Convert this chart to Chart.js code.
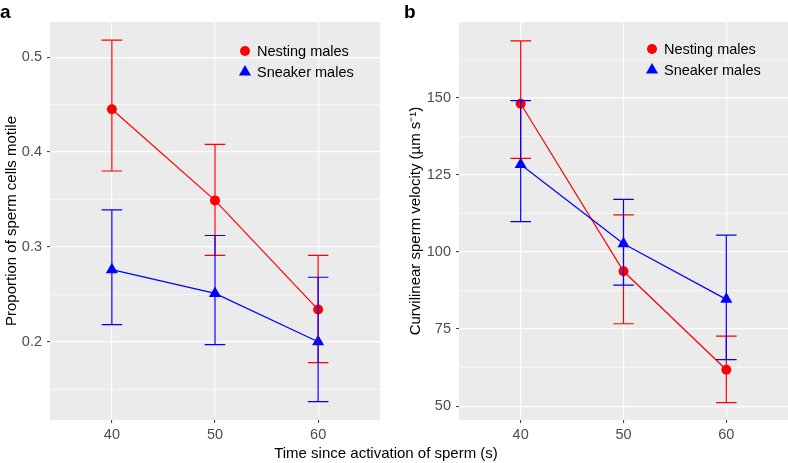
<!DOCTYPE html>
<html lang="en">
<head>
<meta charset="utf-8">
<title>Sperm motility and velocity</title>
<script src="https://cdn.jsdelivr.net/npm/chart.js"></script>
<style>
  body { margin: 0; background: #fff; font-family: "Liberation Sans", Arial, sans-serif; }
  #wrap { position: relative; width: 788px; height: 463px; overflow: hidden; }
  canvas { position: absolute; top: 0; }
  #chartA { left: 0; }
  #chartB { left: 390px; }
  .panel { position: absolute; font-weight: bold; font-size: 19px; line-height: 19px; color: #000; }
  #xTitle { position: absolute; top: 445px; left: 0; width: 772px; text-align: center; font-size: 15px; line-height: 15px; color: #000; }
</style>
</head>
<body>
<div id="wrap">
  <canvas id="chartA" width="390" height="463"></canvas>
  <canvas id="chartB" width="398" height="463"></canvas>
  <div class="panel" style="left:0px;top:2px">a</div>
  <div class="panel" style="left:404px;top:2px">b</div>
  <div id="xTitle">Time since activation of sperm (s)</div>
</div>
<script>
// time since activation (s)
const times = [40, 50, 60];
const timeTicks = [40, 50, 60];

// panel a - proportion of sperm cells motile
const nestMotile     = [0.445, 0.349, 0.234];
const nestMotileLow  = [0.380, 0.291, 0.178];
const nestMotileHigh = [0.518, 0.408, 0.291];
const sneakMotile     = [0.276, 0.251, 0.200];
const sneakMotileLow  = [0.218, 0.197, 0.137];
const sneakMotileHigh = [0.339, 0.312, 0.268];
const motileMajor = [0.2, 0.3, 0.4, 0.5];
const motileMinor = [0.15, 0.25, 0.35, 0.45];

// panel b - curvilinear velocity (um/s)
const nestVel     = [148.0, 93.7, 61.8];
const nestVelLow  = [130.3, 76.7, 51.1];
const nestVelHigh = [168.4, 112.0, 72.7];
const sneakVel     = [128.3, 102.6, 84.6];
const sneakVelLow  = [109.8, 89.2, 65.1];
const sneakVelHigh = [149.0, 117.0, 105.4];
const velMajor = [50, 75, 100, 125, 150];
const velMinor = [62.5, 87.5, 112.5, 137.5, 162.5];

const RED = '#FF0000';
const BLUE = '#0000FF';
const FONT = '"Liberation Sans", Arial, sans-serif';

Chart.defaults.font.family = FONT;
Chart.defaults.devicePixelRatio = 1;

// grey ggplot panel
const panelBg = {
  id: 'panelBg',
  beforeDraw(chart) {
    const a = chart.chartArea, ctx = chart.ctx;
    ctx.save();
    ctx.fillStyle = '#EBEBEB';
    ctx.fillRect(a.left, a.top, a.right - a.left, a.bottom - a.top);
    ctx.restore();
  }
};

// error bars with caps, +-1 s wide
const errorBars = {
  id: 'errorBars',
  afterDatasetsDraw(chart) {
    const ctx = chart.ctx, xs = chart.scales.x, ys = chart.scales.y;
    chart.data.datasets.forEach(ds => {
      ctx.save();
      ctx.strokeStyle = ds.borderColor;
      ctx.lineWidth = 1.2;
      ds.data.forEach((p, i) => {
        const x = xs.getPixelForValue(p.x);
        const x0 = xs.getPixelForValue(p.x - 1), x1 = xs.getPixelForValue(p.x + 1);
        const yl = ys.getPixelForValue(ds.errLow[i]), yh = ys.getPixelForValue(ds.errHigh[i]);
        ctx.beginPath();
        ctx.moveTo(x, yl); ctx.lineTo(x, yh);
        ctx.moveTo(x0, yl); ctx.lineTo(x1, yl);
        ctx.moveTo(x0, yh); ctx.lineTo(x1, yh);
        ctx.stroke();
      });
      ctx.restore();
    });
  }
};

// legend drawn inside the panel
const innerLegend = {
  id: 'innerLegend',
  afterDraw(chart, args, opts) {
    const ctx = chart.ctx, a = chart.chartArea;
    ctx.save();
    chart.data.datasets.forEach((ds, i) => {
      const cx = a.left + opts.dx, cy = a.top + opts.dy + i * 21;
      ctx.fillStyle = ds.backgroundColor;
      ctx.strokeStyle = ds.borderColor;
      Chart.helpers.drawPoint(ctx, {pointStyle: ds.pointStyle, radius: ds.pointRadius, borderWidth: 0}, cx, cy);
      ctx.fillStyle = '#000';
      ctx.font = '14.5px ' + FONT;
      ctx.textBaseline = 'middle';
      ctx.fillText(ds.label, cx + 12, cy + 1);
    });
    ctx.restore();
  }
};

function makeChart(id, cfg) {
  const isMajor = v => cfg.major.includes(v);
  const gridOpts = {
    color: '#FFFFFF',
    lineWidth: ctx => (ctx.tick && isMajor(ctx.tick.value)) ? 1.2 : 0.6,
    tickColor: ctx => (ctx.tick && isMajor(ctx.tick.value)) ? '#333333' : 'rgba(0,0,0,0)',
    tickLength: 3,
    tickWidth: 1
  };
  return new Chart(document.getElementById(id), {
    type: 'line',
    data: {
      datasets: [
        {
          label: 'Nesting males',
          data: times.map((t, i) => ({x: t, y: cfg.nest[i]})),
          errLow: cfg.nestLow, errHigh: cfg.nestHigh,
          borderColor: RED, backgroundColor: RED,
          borderWidth: 1.2, pointStyle: 'circle', pointRadius: 5,
          pointBorderWidth: 0, order: 2
        },
        {
          label: 'Sneaker males',
          data: times.map((t, i) => ({x: t, y: cfg.sneak[i]})),
          errLow: cfg.sneakLow, errHigh: cfg.sneakHigh,
          borderColor: BLUE, backgroundColor: BLUE,
          borderWidth: 1.2, pointStyle: 'triangle', pointRadius: 7,
          pointBorderWidth: 0, order: 1
        }
      ]
    },
    options: {
      responsive: false,
      animation: false,
      events: [],
      layout: { autoPadding: false, padding: { top: 22, right: cfg.padRight, left: 0, bottom: 0 } },
      plugins: {
        legend: { display: false },
        tooltip: { enabled: false },
        innerLegend: { dx: cfg.legDx, dy: cfg.legDy }
      },
      scales: {
        x: {
          type: 'linear', min: 34, max: 66,
          afterBuildTicks: s => { s.ticks = timeTicks.map(v => ({value: v})); },
          afterFit: s => { s.height = 43; s.paddingLeft = 0; s.paddingRight = 0; },
          grid: {
            color: '#FFFFFF', lineWidth: 1.2, tickColor: '#333333', tickLength: 3, tickWidth: 1
          },
          border: { display: false },
          ticks: { color: '#4D4D4D', font: { size: 14.5 }, padding: 3, autoSkip: false, maxRotation: 0 }
        },
        y: {
          type: 'linear', min: cfg.yMin, max: cfg.yMax,
          afterBuildTicks: s => { s.ticks = cfg.major.concat(cfg.minor).sort((p, q) => p - q).map(v => ({value: v})); },
          afterFit: s => { s.width = cfg.yWidth; s.paddingTop = 0; s.paddingBottom = 0; },
          grid: gridOpts,
          border: { display: false },
          ticks: {
            color: '#4D4D4D', font: { size: 14.5 }, padding: 5, autoSkip: false,
            callback: v => isMajor(v) ? cfg.fmt(v) : ''
          },
          title: {
            display: true, text: cfg.yTitle, color: '#000',
            font: { size: 15 }, padding: { top: cfg.titlePad, bottom: 0 }
          }
        }
      }
    },
    plugins: [panelBg, errorBars, innerLegend]
  });
}

makeChart('chartA', {
  nest: nestMotile, nestLow: nestMotileLow, nestHigh: nestMotileHigh,
  sneak: sneakMotile, sneakLow: sneakMotileLow, sneakHigh: sneakMotileHigh,
  major: motileMajor, minor: motileMinor,
  yMin: 0.1176, yMax: 0.537, fmt: v => v.toFixed(1),
  yTitle: 'Proportion of sperm cells motile',
  yWidth: 50, padRight: 10, titlePad: 3, legDx: 195, legDy: 29
});

makeChart('chartB', {
  nest: nestVel, nestLow: nestVelLow, nestHigh: nestVelHigh,
  sneak: sneakVel, sneakLow: sneakVelLow, sneakHigh: sneakVelHigh,
  major: velMajor, minor: velMinor,
  yMin: 45.5, yMax: 174.5, fmt: v => String(v),
  yTitle: 'Curvilinear sperm velocity (\u00B5m s\u207B\u00B9)',
  yWidth: 69, padRight: 0, titlePad: 17, legDx: 193, legDy: 27
});
</script>
</body>
</html>
